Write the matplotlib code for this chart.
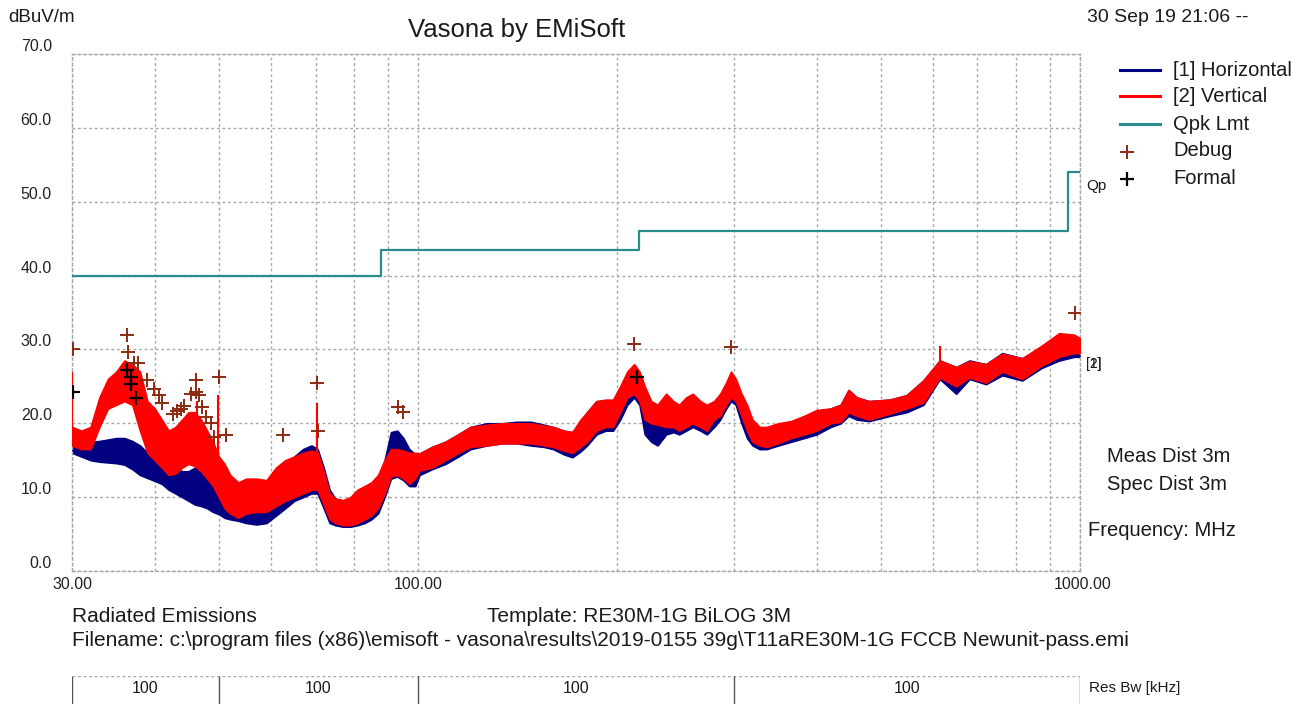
import numpy as np
import matplotlib
matplotlib.use("Agg")
import matplotlib.pyplot as plt
from matplotlib.lines import Line2D

plt.rcParams['font.family'] = ['Liberation Sans', 'DejaVu Sans']

# Measured spectrum envelopes (MHz, dBuV/m)
freq = [30.0, 31.0, 32.0, 33.0, 34.0, 35.0, 36.0, 37.0, 38.0, 39.0, 40.0, 41.0, 42.0,
        43.0, 44.0, 45.0, 46.0, 47.0, 48.0, 49.0, 50.0, 51.0, 52.0, 53.5, 55.0, 57.0,
        59.0, 61.0, 63.0, 65.0, 67.0, 69.0, 70.5, 72.0, 73.5, 75.0, 77.0, 79.0, 81.0,
        83.0, 85.0, 87.0, 89.0, 91.0, 93.0, 95.0, 97.0, 99.0, 100.5, 105.0, 110.0,
        115.0, 120.0, 127.0, 134.0, 141.0, 148.0, 155.0, 160.0, 166.0, 171.0, 176.0,
        180.0, 186.0, 192.0, 197.0, 202.0, 207.0, 212.0, 216.0, 220.0, 225.0, 230.0,
        237.0, 243.0, 248.0, 254.0, 260.0, 267.0, 273.0, 280.0, 286.0, 292.0, 297.0,
        302.0, 308.0, 314.0, 320.0, 328.0, 336.0, 350.0, 366.0, 383.0, 400.0, 420.0,
        435.0, 447.0, 460.0, 480.0, 516.0, 547.0, 580.0, 614.0, 650.0, 681.0, 721.0,
        763.0, 818.0, 875.0, 930.0, 980.0, 1000.0]
blue_lo = [16.0, 15.5, 15.0, 14.8, 14.7, 14.6, 14.4, 13.8, 13.0, 12.6, 12.2, 11.8, 11.0,
           10.5, 10.0, 9.5, 9.0, 8.8, 8.5, 8.0, 7.7, 7.2, 7.0, 6.8, 6.5, 6.3,
           6.5, 7.5, 8.5, 9.5, 10.0, 10.5, 10.5, 8.5, 6.5, 6.2, 6.0, 6.0, 6.2,
           6.5, 7.0, 7.8, 10.0, 12.5, 12.8, 12.3, 11.5, 11.5, 13.0, 13.8, 14.5,
           15.5, 16.5, 17.0, 17.3, 17.3, 17.0, 16.8, 16.5, 15.8, 15.4, 16.2,
           17.0, 18.5, 19.0, 19.0, 20.5, 22.5, 23.5, 22.5, 18.5, 17.5, 17.0,
           18.5, 18.8, 18.5, 19.0, 19.5, 19.0, 18.5, 19.5, 20.5, 22.0, 23.0,
           22.5, 20.0, 18.0, 17.0, 16.5, 16.5, 17.0, 17.5, 18.0, 18.5, 19.5,
           20.0, 21.0, 20.5, 20.3, 21.0, 21.5, 22.5, 26.0, 24.0, 26.0, 25.3,
           26.5, 25.8, 27.5, 28.5, 29.0, 29.0]
blue_hi = [17.5, 17.3, 17.5, 17.6, 17.8, 18.0, 18.0, 17.6, 17.0, 16.0, 15.3, 15.0, 14.5,
           14.0, 13.5, 13.5, 14.0, 13.5, 12.8, 12.0, 11.2, 10.5, 10.0, 9.8, 9.8, 10.0,
           10.5, 12.0, 13.5, 15.5, 16.5, 17.0, 16.5, 14.0, 11.0, 9.8, 9.5, 9.8, 10.5,
           11.0, 11.8, 12.5, 15.0, 18.8, 19.0, 18.0, 16.5, 15.8, 15.9, 16.8, 17.5,
           18.5, 19.5, 20.0, 20.0, 20.2, 20.2, 19.8, 19.5, 19.0, 18.8, 20.0,
           21.5, 23.0, 23.0, 23.0, 24.5, 26.5, 27.0, 26.0, 24.0, 22.5, 21.0,
           21.5, 21.5, 21.0, 21.5, 21.8, 21.5, 21.0, 22.0, 23.0, 24.5, 25.5,
           25.0, 23.5, 21.5, 20.0, 19.0, 19.0, 19.5, 19.8, 20.5, 21.5, 22.0,
           22.5, 24.5, 23.5, 23.0, 23.2, 23.8, 25.8, 28.5, 27.6, 28.5, 28.0,
           29.5, 28.8, 30.3, 32.0, 31.8, 31.5]
red_lo = [17.0, 16.5, 16.5, 19.5, 22.0, 22.5, 23.0, 22.5, 19.0, 16.0, 15.0, 14.0, 13.0,
          13.2, 14.0, 14.5, 14.2, 13.5, 12.5, 11.5, 10.0, 8.5, 7.8, 7.2, 7.8, 8.0,
          8.0, 8.8, 9.5, 10.0, 10.5, 11.0, 11.0, 9.0, 7.0, 6.5, 6.2, 6.2, 6.5,
          7.0, 7.5, 8.5, 10.5, 12.8, 13.0, 12.5, 11.8, 12.5, 13.6, 14.0, 15.0,
          16.0, 16.8, 17.0, 17.3, 17.3, 17.3, 17.0, 16.8, 16.3, 16.0, 16.8,
          17.5, 19.0, 19.5, 19.5, 21.5, 23.5, 24.0, 23.0, 20.5, 20.0, 19.8,
          19.5, 19.5, 19.0, 19.5, 20.0, 19.5, 19.0, 20.5, 21.0, 22.5, 23.5,
          23.0, 21.0, 19.0, 17.5, 17.0, 16.8, 17.3, 18.0, 18.5, 19.0, 20.0,
          20.2, 21.5, 21.0, 20.5, 21.3, 22.0, 22.8, 26.2, 25.0, 26.2, 25.5,
          27.0, 26.0, 27.8, 29.0, 29.5, 29.5]
red_hi = [19.5, 19.0, 19.5, 23.5, 26.0, 27.0, 28.5, 28.0, 27.0, 23.0, 22.0, 20.5, 19.0,
          19.5, 20.5, 21.5, 21.5, 20.5, 19.0, 17.5, 15.5, 14.5, 13.0, 12.0, 12.5, 12.5,
          12.3, 14.0, 15.0, 15.5, 16.0, 16.3, 16.0, 13.5, 10.5, 9.8, 9.6, 10.0, 11.0,
          11.5, 12.0, 13.0, 15.0, 16.5, 16.5, 16.3, 16.0, 16.0, 15.9, 16.8, 17.5,
          18.5, 19.5, 19.8, 20.0, 20.0, 20.0, 19.7, 19.5, 19.0, 18.8, 20.5,
          21.5, 23.0, 23.2, 23.2, 25.0, 27.0, 28.0, 27.0, 25.0, 23.0, 22.5,
          24.0, 23.0, 22.5, 23.5, 24.0, 23.0, 22.5, 23.0, 24.0, 25.5, 27.0,
          26.0, 24.0, 22.5, 20.5, 19.5, 19.5, 20.0, 20.3, 21.0, 21.8, 22.0,
          22.5, 24.5, 23.5, 23.0, 23.2, 23.8, 25.8, 28.5, 27.6, 28.4, 28.0,
          29.4, 28.8, 30.5, 32.2, 32.0, 31.5]

# Narrow emissions standing above the vertical sweep
spike_freq = [30.05, 46.4, 49.8, 70.3, 614.0]
spike_lo = [18.0, 18.0, 16.0, 14.0, 27.0]
spike_hi = [27.0, 23.0, 23.8, 22.8, 30.5]

# Quasi-peak limit (step edges and level in each band)
limit_edges = [30, 88, 216, 960, 1000]
limit_level = [40.0, 43.5, 46.0, 54.0, 54.0]

# Debug and formal measurement points
debug_freq = [30.1, 36.3, 36.5, 37.2, 37.7, 38.9, 39.9, 40.6, 41.0, 42.6, 43.3, 43.8,
              44.3, 45.4, 46.2, 46.2, 46.6, 47.2, 47.8, 48.6, 49.1, 50.0, 51.2,
              62.6, 70.3, 70.5, 93.1, 95.0, 212.0, 297.0, 984.0]
debug_level = [30.0, 31.9, 29.6, 28.2, 28.1, 25.8, 24.7, 23.8, 22.8, 21.3, 21.6, 22.0,
               22.3, 24.0, 24.2, 25.8, 23.8, 22.2, 20.8, 20.1, 18.1, 26.2, 18.4,
               18.4, 25.5, 18.9, 22.2, 21.5, 30.8, 30.3, 34.9]
formal_freq = [30.1, 36.3, 36.8, 36.8, 37.5, 214.0]
formal_level = [24.3, 27.2, 26.2, 25.3, 23.4, 26.2]

# Resolution bandwidth table
rbw_edges = [30, 50, 100, 300, 1000]
rbw_values = ["100", "100", "100", "100"]

W, H = 1302, 704
fig = plt.figure(figsize=(W / 100, H / 100), dpi=100)
fig.patch.set_facecolor('white')


def fx(x):
    return x / W


def fy(y):
    return 1 - y / H


ax = fig.add_axes([fx(72), fy(571), 1008 / W, 517 / H])
ax.set_xscale('log')
ax.set_xlim(30, 1000)
ax.set_ylim(0, 70)

grid_kw = dict(color='#a8a8a8', linestyle=(0, (2, 2)), linewidth=1.0)
ax.set_xticks([30, 100, 1000])
ax.set_xticks([40, 50, 60, 70, 80, 90, 200, 300, 400, 500, 600, 700, 800, 900], minor=True)
ax.set_yticks(np.arange(0, 71, 10))
ax.grid(True, which='both', **grid_kw)
ax.tick_params(which='both', length=0, labelbottom=False, labelleft=False)
for sp in ax.spines.values():
    sp.set_color('#a8a8a8')
    sp.set_linestyle((0, (2, 2)))
    sp.set_linewidth(1.0)
ax.set_axisbelow(True)

blue = '#000080'
red = '#ff0000'
ax.fill_between(freq, blue_lo, blue_hi, color=blue, lw=1.2, edgecolor=blue, zorder=2)
ax.fill_between(freq, red_lo, red_hi, color=red, lw=1.2, edgecolor=red, zorder=3)
ax.vlines(spike_freq, spike_lo, spike_hi, color=red, lw=1.5, zorder=3)

ax.step(limit_edges, limit_level, where='post', color='#2a8c8c', lw=1.6, zorder=4)

debug_col = '#8b2a10'
ax.plot(debug_freq, debug_level, '+', color=debug_col, ms=10, mew=1.4, zorder=5)
ax.plot(formal_freq, formal_level, '+', color='black', ms=10, mew=1.6, zorder=6)

# y tick labels
for v in range(0, 71, 10):
    ax.text(-0.02, v, f"{v:.1f}", transform=ax.get_yaxis_transform(),
            ha='right', va='bottom', fontsize=11.5, color='#222222')

# x tick labels
for f, lab in [(30, "30.00"), (100, "100.00"), (1000, "1000.00")]:
    ax.text(f * (1.01 if f == 1000 else 1.0), -0.012, lab, transform=ax.get_xaxis_transform(),
            ha='center', va='top', fontsize=11.5, color='#222222')

txt = dict(color='#1a1a1a')
fig.text(fx(8), fy(18), "dBuV/m", ha='left', va='center', fontsize=13.5, **txt)
fig.text(fx(517), fy(30), "Vasona by EMiSoft", ha='center', va='center', fontsize=18.5, **txt)
fig.text(fx(1087), fy(18), "30 Sep 19 21:06 --", ha='left', va='center', fontsize=14, **txt)

# legend
leg_y = [70, 96, 124]
leg_c = [blue, red, '#2a8c8c']
leg_t = ["[1] Horizontal", "[2] Vertical", "Qpk Lmt"]
for y, c, t in zip(leg_y, leg_c, leg_t):
    fig.add_artist(Line2D([fx(1120), fx(1160)], [fy(y), fy(y)], color=c, lw=2.2))
    fig.text(fx(1173), fy(y), t, ha='left', va='center', fontsize=14.5, **txt)
fig.add_artist(Line2D([fx(1127)], [fy(152)], marker='+', color=debug_col, ms=10, mew=1.4))
fig.text(fx(1173), fy(151), "Debug", ha='left', va='center', fontsize=14.5, **txt)
fig.add_artist(Line2D([fx(1127)], [fy(179)], marker='+', color='black', ms=10, mew=1.6))
fig.text(fx(1173), fy(178), "Formal", ha='left', va='center', fontsize=14.5, **txt)

fig.text(fx(1086), fy(186), "Qp", ha='left', va='center', fontsize=11, **txt)
fig.text(fx(1086), fy(364), "[2]", ha='left', va='center', fontsize=10, **txt)
fig.text(fx(1086), fy(364), "[1]", ha='left', va='center', fontsize=10, **txt)

fig.text(fx(1107), fy(457), "Meas Dist 3m", ha='left', va='center', fontsize=14.5, **txt)
fig.text(fx(1107), fy(485), "Spec Dist 3m", ha='left', va='center', fontsize=14.5, **txt)
fig.text(fx(1088), fy(531), "Frequency: MHz", ha='left', va='center', fontsize=14.5, **txt)

fig.text(fx(72), fy(617), "Radiated Emissions", ha='left', va='center', fontsize=15, **txt)
fig.text(fx(487), fy(617), "Template: RE30M-1G BiLOG 3M", ha='left', va='center', fontsize=15, **txt)
fig.text(fx(72), fy(640),
         "Filename: c:\\program files (x86)\\emisoft - vasona\\results\\2019-0155 39g\\T11aRE30M-1G FCCB Newunit-pass.emi",
         ha='left', va='center', fontsize=15, **txt)

# resolution bandwidth strip
rb = fig.add_axes([fx(72), 0.0, 1008 / W, (704 - 676) / H])
rb.set_xscale('log')
rb.set_xlim(30, 1000)
rb.set_ylim(0, 1)
rb.axis('off')
rb.axhline(1, color='#a8a8a8', linestyle=(0, (2, 2)), lw=1.0)
rb.vlines(rbw_edges, 0, 1, color='#555555', lw=1.0)
for a, b, v in zip(rbw_edges[:-1], rbw_edges[1:], rbw_values):
    rb.text(np.sqrt(a * b), 0.55, v, ha='center', va='center', fontsize=11.5, **txt)
fig.text(fx(1089), fy(688), "Res Bw [kHz]", ha='left', va='center', fontsize=11, **txt)

fig.savefig("out.png", dpi=100, facecolor='white')
